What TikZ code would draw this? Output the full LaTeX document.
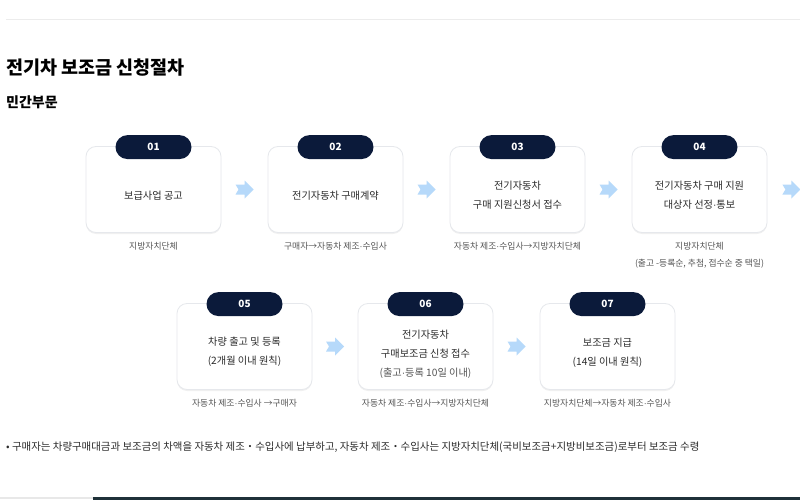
\documentclass[tikz,border=0pt]{standalone}
\usepackage{fontspec}
\setmainfont{Noto Sans CJK KR}
\newfontfamily\latinfont{Liberation Sans}
\usetikzlibrary{calc,shadows}
\definecolor{navy}{HTML}{0B1A3A}
\definecolor{boxline}{HTML}{E6E8EC}
\definecolor{maintxt}{HTML}{2B2B2B}
\definecolor{captxt}{HTML}{555555}
\definecolor{arrowblue}{HTML}{B6D9FA}
\definecolor{topline}{HTML}{ECECEC}
\definecolor{barbase}{HTML}{1F3139}
\newcommand{\md}{{\latinfont ·}}
\tikzset{
  stepbox/.style={draw=boxline, line width=0.8pt, fill=white, rounded corners=10pt,
    minimum width=135pt, minimum height=86pt, inner sep=0pt,
    drop shadow={shadow xshift=0pt, shadow yshift=-1.5pt, opacity=0.06, fill=black}},
  badge/.style={fill=navy, rounded corners=12pt, minimum width=76pt, minimum height=24pt,
    inner sep=0pt, text=white, font=\fontsize{10}{12}\selectfont\bfseries},
  boxtxt/.style={align=center, inner sep=0pt, text=maintxt, font=\fontsize{10.2}{19}\selectfont},
  captxtst/.style={align=center, inner sep=0pt, text=captxt, font=\fontsize{8.8}{17}\selectfont},
  arrowshape/.style={fill=arrowblue}
}
\newcommand{\stepArrow}[1]{\fill[arrowshape, shift={(#1)}] (-9,-5) -- (0,-5) -- (0,-9) -- (9,0) -- (0,9) -- (0,5) -- (-9,5) -- (-6,0) -- cycle;}
\begin{document}
\begin{tikzpicture}[x=1pt, y=-1pt]
\useasboundingbox (0,0) rectangle (800,500);
\fill[white] (0,0) rectangle (800,500);
% top line
\draw[topline, line width=1pt] (6,20) -- (800,20);
% titles
\node[anchor=west, inner sep=0pt, font=\fontsize{18.5}{20}\selectfont\bfseries, text=black] (title) at (6,68) {전기차 보조금 신청절차};
\node[anchor=west, inner sep=0pt, font=\fontsize{14}{16}\selectfont\bfseries, text=black] (sub) at (6,102) {민간부문};
% row 1 boxes
\node[stepbox] (b1) at (153.5,189.5) {};
\node[stepbox] (b2) at (335.5,189.5) {};
\node[stepbox] (b3) at (517.5,189.5) {};
\node[stepbox] (b4) at (699.5,189.5) {};
% row 2 boxes
\node[stepbox] (b5) at (244.5,346.5) {};
\node[stepbox] (b6) at (425.5,346.5) {};
\node[stepbox] (b7) at (607.5,346.5) {};
% badges
\node[badge] (n1) at ($(b1.north)+(0,1)$) {01};
\node[badge] (n2) at ($(b2.north)+(0,1)$) {02};
\node[badge] (n3) at ($(b3.north)+(0,1)$) {03};
\node[badge] (n4) at ($(b4.north)+(0,1)$) {04};
\node[badge] (n5) at ($(b5.north)+(0,1)$) {05};
\node[badge] (n6) at ($(b6.north)+(0,1)$) {06};
\node[badge] (n7) at ($(b7.north)+(0,1)$) {07};
% box texts
\node[boxtxt] (t1) at (153.5,196) {보급사업 공고};
\node[boxtxt] (t2) at (335.5,196) {전기자동차 구매계약};
\node[boxtxt] (t3) at (517.5,195) {전기자동차\\구매 지원신청서 접수};
\node[boxtxt] (t4) at (699.5,195) {전기자동차 구매 지원\\대상자 선정\md 통보};
\node[boxtxt] (t5) at (244.5,352) {차량 출고 및 등록\\(2개월 이내 원칙)};
\node[boxtxt] (t6) at (425.5,354) {전기자동차\\구매보조금 신청 접수\\{\color{captxt}(출고\md 등록 10일 이내)}};
\node[boxtxt] (t7) at (607.5,353) {보조금 지급\\(14일 이내 원칙)};
% captions
\node[captxtst, anchor=north] (c1) at ($(b1.south)+(0,9.5)$) {지방자치단체};
\node[captxtst, anchor=north] (c2) at ($(b2.south)+(0,9.5)$) {구매자→자동차 제조\md 수입사};
\node[captxtst, anchor=north] (c3) at ($(b3.south)+(0,9.5)$) {자동차 제조\md 수입사→지방자치단체};
\node[captxtst, anchor=north] (c4) at ($(b4.south)+(0,9.5)$) {지방자치단체\\(출고 -등록순, 추첨, 접수순 중 택일)};
\node[captxtst, anchor=north] (c5) at ($(b5.south)+(0,9.5)$) {자동차 제조\md 수입사 →구매자};
\node[captxtst, anchor=north] (c6) at ($(b6.south)+(0,9.5)$) {자동차 제조\md 수입사→지방자치단체};
\node[captxtst, anchor=north] (c7) at ($(b7.south)+(0,9.5)$) {지방자치단체→자동차 제조\md 수입사};
% arrows
\coordinate (a1) at ($(b1.east)!0.5!(b2.west)$);
\coordinate (a2) at ($(b2.east)!0.5!(b3.west)$);
\coordinate (a3) at ($(b3.east)!0.5!(b4.west)$);
\coordinate (a4) at ($(b4.east)+(24,0)$);
\coordinate (a5) at ($(b5.east)!0.5!(b6.west)$);
\coordinate (a6) at ($(b6.east)!0.5!(b7.west)$);
\stepArrow{a1}
\stepArrow{a2}
\stepArrow{a3}
\stepArrow{a4}
\stepArrow{a5}
\stepArrow{a6}
% note
\node[anchor=west, inner sep=0pt, text=maintxt, font=\fontsize{10.45}{12}\selectfont] (note) at (6,447) {• 구매자는 차량구매대금과 보조금의 차액을 자동차 제조・수입사에 납부하고, 자동차 제조・수입사는 지방자치단체(국비보조금+지방비보조금)로부터 보조금 수령};
% bottom bars
\fill[topline!120] (0,497) rectangle (93,499);
\fill[barbase] (93,497) rectangle (800,500);
\end{tikzpicture}
\end{document}
